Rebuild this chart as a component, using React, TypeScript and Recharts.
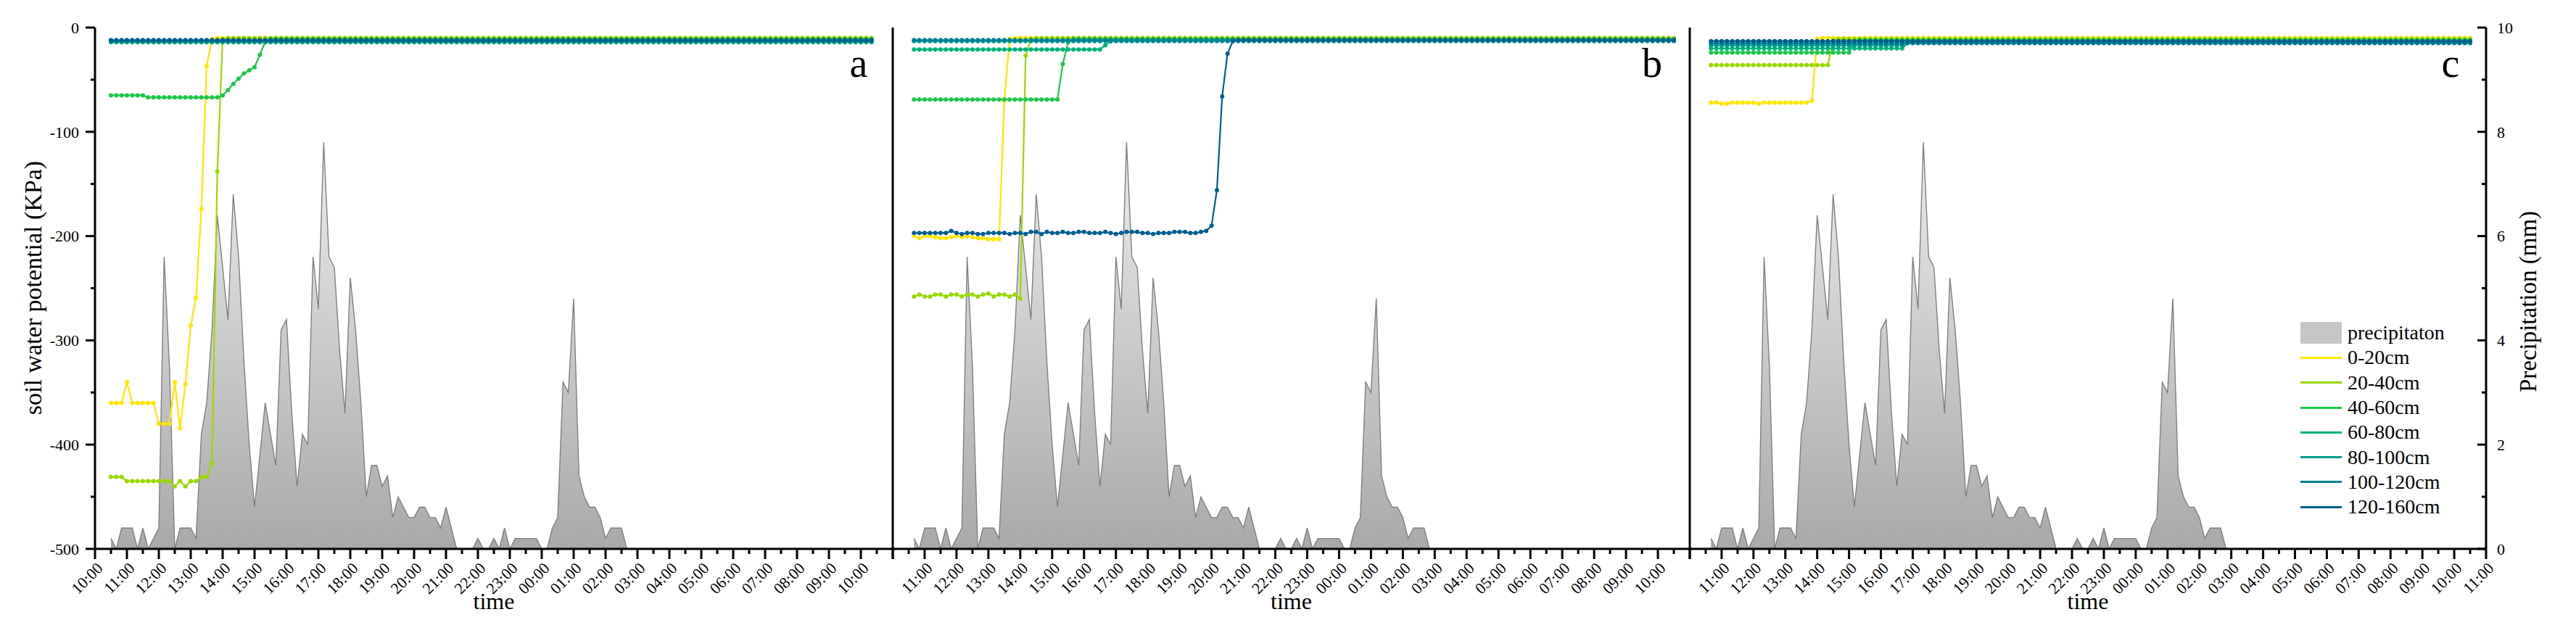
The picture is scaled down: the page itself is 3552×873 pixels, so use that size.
import React from 'react'
import { ComposedChart, Line, Area, XAxis, YAxis, Legend } from 'recharts'

const depths = ['0-20cm', '20-40cm', '40-60cm', '60-80cm', '80-100cm', '100-120cm', '120-160cm']
const depthColors = ['#FFE600', '#9BD800', '#1EC64A', '#00B27C', '#009E8E', '#007F93', '#005E8E']

// minutes after 10:00 of the first 10-min record, per site (a, b, c)
const siteStart = [30, 40, 40]

// precipitation (mm) per 10 minutes, from the first record
const precipitation = [
  0.2, 0, 0.4, 0.4, 0.4, 0, 0.4, 0, 0.2, 0.4,
  5.6, 3.5, 0, 0.4, 0.4, 0.4, 0.2, 2.2, 2.8, 4.2,
  6.4, 5.4, 4.4, 6.8, 5.6, 3.6, 2.0, 0.8, 1.8, 2.8,
  2.2, 1.6, 4.2, 4.4, 2.6, 1.2, 2.2, 2.0, 5.6, 4.6,
  7.8, 5.6, 5.4, 3.8, 2.6, 5.2, 4.2, 2.8, 1.0, 1.6,
  1.6, 1.2, 1.4, 0.6, 1.0, 0.8, 0.6, 0.6, 0.8, 0.8,
  0.6, 0.6, 0.4, 0.8, 0.4, 0, 0, 0, 0, 0.2,
  0, 0, 0.2, 0, 0.4, 0, 0.2, 0.2, 0.2, 0.2,
  0.2, 0, 0, 0.4, 0.6, 3.2, 3.0, 4.8, 1.4, 1.0,
  0.8, 0.8, 0.6, 0.2, 0.4, 0.4, 0.4, 0,
]

// ---- site a, soil water potential (kPa)
const a_0_20 = [
  -360, -360, -360, -340, -360, -360, -360, -360, -360, -380, -380, -380, -340, -384, -342, -286, -259, -174, -37, -11, -10, -10, -10, -10,
  -10, -10, -10, -10, -10, -10, -10, -10, -10, -10, -10, -10, -10, -10, -10, -10, -10, -10, -10, -10, -10, -10, -10, -10,
  -10, -10, -10, -10, -10, -10, -10, -10, -10, -10, -10, -10, -10, -10, -10, -10, -10, -10, -10, -10, -10, -10, -10, -10,
  -10, -10, -10, -10, -10, -10, -10, -10, -10, -10, -10, -10, -10, -10, -10, -10, -10, -10, -10, -10, -10, -10, -10, -10,
  -10, -10, -10, -10, -10, -10, -10, -10, -10, -10, -10, -10, -10, -10, -10, -10, -10, -10, -10, -10, -10, -10, -10, -10,
  -10, -10, -10, -10, -10, -10, -10, -10, -10, -10, -10, -10, -10, -10, -10, -10, -10, -10, -10, -10, -10, -10, -10, -10,
]
const a_20_40 = [
  -431, -431, -431, -435, -435, -435, -435, -435, -435, -435, -435, -435, -440, -435, -440, -435, -435, -431, -431, -418, -138, -11, -10, -10,
  -10, -10, -10, -10, -10, -10, -10, -10, -10, -10, -10, -10, -10, -10, -10, -10, -10, -10, -10, -10, -10, -10, -10, -10,
  -10, -10, -10, -10, -10, -10, -10, -10, -10, -10, -10, -10, -10, -10, -10, -10, -10, -10, -10, -10, -10, -10, -10, -10,
  -10, -10, -10, -10, -10, -10, -10, -10, -10, -10, -10, -10, -10, -10, -10, -10, -10, -10, -10, -10, -10, -10, -10, -10,
  -10, -10, -10, -10, -10, -10, -10, -10, -10, -10, -10, -10, -10, -10, -10, -10, -10, -10, -10, -10, -10, -10, -10, -10,
  -10, -10, -10, -10, -10, -10, -10, -10, -10, -10, -10, -10, -10, -10, -10, -10, -10, -10, -10, -10, -10, -10, -10, -10,
]
const a_40_60 = [
  -65, -65, -65, -65, -65, -65, -65, -67, -67, -67, -67, -67, -67, -67, -67, -67, -67, -67, -67, -67, -67, -65, -60, -54,
  -49, -44, -41, -38, -26, -14, -11, -11, -11, -11, -11, -11, -11, -11, -11, -11, -11, -11, -11, -11, -11, -11, -11, -11,
  -11, -11, -11, -11, -11, -11, -11, -11, -11, -11, -11, -11, -11, -11, -11, -11, -11, -11, -11, -11, -11, -11, -11, -11,
  -11, -11, -11, -11, -11, -11, -11, -11, -11, -11, -11, -11, -11, -11, -11, -11, -11, -11, -11, -11, -11, -11, -11, -11,
  -11, -11, -11, -11, -11, -11, -11, -11, -11, -11, -11, -11, -11, -11, -11, -11, -11, -11, -11, -11, -11, -11, -11, -11,
  -11, -11, -11, -11, -11, -11, -11, -11, -11, -11, -11, -11, -11, -11, -11, -11, -11, -11, -11, -11, -11, -11, -11, -11,
]
const a_60_80 = [
  -14, -14, -14, -14, -14, -14, -14, -14, -14, -14, -14, -14, -14, -14, -14, -14, -14, -14, -14, -14, -14, -14, -14, -14,
  -14, -14, -14, -14, -14, -14, -14, -14, -14, -14, -14, -14, -14, -14, -14, -14, -14, -14, -14, -14, -14, -14, -14, -14,
  -14, -14, -14, -14, -14, -14, -14, -14, -14, -14, -14, -14, -14, -14, -14, -14, -14, -14, -14, -14, -14, -14, -14, -14,
  -14, -14, -14, -14, -14, -14, -14, -14, -14, -14, -14, -14, -14, -14, -14, -14, -14, -14, -14, -14, -14, -14, -14, -14,
  -14, -14, -14, -14, -14, -14, -14, -14, -14, -14, -14, -14, -14, -14, -14, -14, -14, -14, -14, -14, -14, -14, -14, -14,
  -14, -14, -14, -14, -14, -14, -14, -14, -14, -14, -14, -14, -14, -14, -14, -14, -14, -14, -14, -14, -14, -14, -14, -14,
]
const a_80_100 = [
  -13, -13, -13, -13, -13, -13, -13, -13, -13, -13, -13, -13, -13, -13, -13, -13, -13, -13, -13, -13, -13, -13, -13, -13,
  -13, -13, -13, -13, -13, -13, -13, -13, -13, -13, -13, -13, -13, -13, -13, -13, -13, -13, -13, -13, -13, -13, -13, -13,
  -13, -13, -13, -13, -13, -13, -13, -13, -13, -13, -13, -13, -13, -13, -13, -13, -13, -13, -13, -13, -13, -13, -13, -13,
  -13, -13, -13, -13, -13, -13, -13, -13, -13, -13, -13, -13, -13, -13, -13, -13, -13, -13, -13, -13, -13, -13, -13, -13,
  -13, -13, -13, -13, -13, -13, -13, -13, -13, -13, -13, -13, -13, -13, -13, -13, -13, -13, -13, -13, -13, -13, -13, -13,
  -13, -13, -13, -13, -13, -13, -13, -13, -13, -13, -13, -13, -13, -13, -13, -13, -13, -13, -13, -13, -13, -13, -13, -13,
]
const a_100_120 = [
  -13, -13, -13, -13, -13, -13, -13, -13, -13, -13, -13, -13, -13, -13, -13, -13, -13, -13, -13, -13, -13, -13, -13, -13,
  -13, -13, -13, -13, -13, -13, -13, -13, -13, -13, -13, -13, -13, -13, -13, -13, -13, -13, -13, -13, -13, -13, -13, -13,
  -13, -13, -13, -13, -13, -13, -13, -13, -13, -13, -13, -13, -13, -13, -13, -13, -13, -13, -13, -13, -13, -13, -13, -13,
  -13, -13, -13, -13, -13, -13, -13, -13, -13, -13, -13, -13, -13, -13, -13, -13, -13, -13, -13, -13, -13, -13, -13, -13,
  -13, -13, -13, -13, -13, -13, -13, -13, -13, -13, -13, -13, -13, -13, -13, -13, -13, -13, -13, -13, -13, -13, -13, -13,
  -13, -13, -13, -13, -13, -13, -13, -13, -13, -13, -13, -13, -13, -13, -13, -13, -13, -13, -13, -13, -13, -13, -13, -13,
]
const a_120_160 = [
  -12, -12, -12, -12, -12, -12, -12, -12, -12, -12, -12, -12, -12, -12, -12, -12, -12, -12, -12, -12, -12, -12, -12, -12,
  -12, -12, -12, -12, -12, -12, -12, -12, -12, -12, -12, -12, -12, -12, -12, -12, -12, -12, -12, -12, -12, -12, -12, -12,
  -12, -12, -12, -12, -12, -12, -12, -12, -12, -12, -12, -12, -12, -12, -12, -12, -12, -12, -12, -12, -12, -12, -12, -12,
  -12, -12, -12, -12, -12, -12, -12, -12, -12, -12, -12, -12, -12, -12, -12, -12, -12, -12, -12, -12, -12, -12, -12, -12,
  -12, -12, -12, -12, -12, -12, -12, -12, -12, -12, -12, -12, -12, -12, -12, -12, -12, -12, -12, -12, -12, -12, -12, -12,
  -12, -12, -12, -12, -12, -12, -12, -12, -12, -12, -12, -12, -12, -12, -12, -12, -12, -12, -12, -12, -12, -12, -12, -12,
]

// ---- site b
const b_0_20 = [
  -200, -202, -200, -200, -201, -202, -202, -201, -200, -201, -200, -201, -202, -202, -203, -203, -203, -70, -11, -10, -10, -10, -10, -10,
  -10, -10, -10, -10, -10, -10, -10, -10, -10, -10, -10, -10, -10, -10, -10, -10, -10, -10, -10, -10, -10, -10, -10, -10,
  -10, -10, -10, -10, -10, -10, -10, -10, -10, -10, -10, -10, -10, -10, -10, -10, -10, -10, -10, -10, -10, -10, -10, -10,
  -10, -10, -10, -10, -10, -10, -10, -10, -10, -10, -10, -10, -10, -10, -10, -10, -10, -10, -10, -10, -10, -10, -10, -10,
  -10, -10, -10, -10, -10, -10, -10, -10, -10, -10, -10, -10, -10, -10, -10, -10, -10, -10, -10, -10, -10, -10, -10, -10,
  -10, -10, -10, -10, -10, -10, -10, -10, -10, -10, -10, -10, -10, -10, -10, -10, -10, -10, -10, -10, -10, -10, -10, -10,
]
const b_20_40 = [
  -258, -256, -258, -258, -256, -256, -258, -256, -256, -258, -256, -256, -258, -256, -255, -258, -256, -256, -258, -256, -260, -27, -11, -10,
  -10, -10, -10, -10, -10, -10, -10, -10, -10, -10, -10, -10, -10, -10, -10, -10, -10, -10, -10, -10, -10, -10, -10, -10,
  -10, -10, -10, -10, -10, -10, -10, -10, -10, -10, -10, -10, -10, -10, -10, -10, -10, -10, -10, -10, -10, -10, -10, -10,
  -10, -10, -10, -10, -10, -10, -10, -10, -10, -10, -10, -10, -10, -10, -10, -10, -10, -10, -10, -10, -10, -10, -10, -10,
  -10, -10, -10, -10, -10, -10, -10, -10, -10, -10, -10, -10, -10, -10, -10, -10, -10, -10, -10, -10, -10, -10, -10, -10,
  -10, -10, -10, -10, -10, -10, -10, -10, -10, -10, -10, -10, -10, -10, -10, -10, -10, -10, -10, -10, -10, -10, -10, -10,
]
const b_40_60 = [
  -69, -69, -69, -69, -69, -69, -69, -69, -69, -69, -69, -69, -69, -69, -69, -69, -69, -69, -69, -69, -69, -69, -69, -69,
  -69, -69, -69, -69, -35, -14, -11, -11, -11, -11, -11, -11, -11, -11, -11, -11, -11, -11, -11, -11, -11, -11, -11, -11,
  -11, -11, -11, -11, -11, -11, -11, -11, -11, -11, -11, -11, -11, -11, -11, -11, -11, -11, -11, -11, -11, -11, -11, -11,
  -11, -11, -11, -11, -11, -11, -11, -11, -11, -11, -11, -11, -11, -11, -11, -11, -11, -11, -11, -11, -11, -11, -11, -11,
  -11, -11, -11, -11, -11, -11, -11, -11, -11, -11, -11, -11, -11, -11, -11, -11, -11, -11, -11, -11, -11, -11, -11, -11,
  -11, -11, -11, -11, -11, -11, -11, -11, -11, -11, -11, -11, -11, -11, -11, -11, -11, -11, -11, -11, -11, -11, -11, -11,
]
const b_60_80 = [
  -21, -21, -21, -21, -21, -21, -21, -21, -21, -21, -21, -21, -21, -21, -21, -21, -21, -21, -21, -21, -21, -21, -21, -21,
  -21, -21, -21, -21, -21, -21, -21, -21, -21, -21, -21, -21, -17, -13, -12, -12, -12, -12, -12, -12, -12, -12, -12, -12,
  -12, -12, -12, -12, -12, -12, -12, -12, -12, -12, -12, -12, -12, -12, -12, -12, -12, -12, -12, -12, -12, -12, -12, -12,
  -12, -12, -12, -12, -12, -12, -12, -12, -12, -12, -12, -12, -12, -12, -12, -12, -12, -12, -12, -12, -12, -12, -12, -12,
  -12, -12, -12, -12, -12, -12, -12, -12, -12, -12, -12, -12, -12, -12, -12, -12, -12, -12, -12, -12, -12, -12, -12, -12,
  -12, -12, -12, -12, -12, -12, -12, -12, -12, -12, -12, -12, -12, -12, -12, -12, -12, -12, -12, -12, -12, -12, -12, -12,
]
const b_80_100 = [
  -13, -13, -13, -13, -13, -13, -13, -13, -13, -13, -13, -13, -13, -13, -13, -13, -13, -13, -13, -13, -13, -13, -13, -13,
  -13, -13, -13, -13, -13, -13, -13, -13, -13, -13, -13, -13, -13, -13, -13, -13, -13, -13, -13, -13, -13, -13, -13, -13,
  -13, -13, -13, -13, -13, -13, -13, -13, -13, -13, -13, -13, -13, -13, -13, -13, -13, -13, -13, -13, -13, -13, -13, -13,
  -13, -13, -13, -13, -13, -13, -13, -13, -13, -13, -13, -13, -13, -13, -13, -13, -13, -13, -13, -13, -13, -13, -13, -13,
  -13, -13, -13, -13, -13, -13, -13, -13, -13, -13, -13, -13, -13, -13, -13, -13, -13, -13, -13, -13, -13, -13, -13, -13,
  -13, -13, -13, -13, -13, -13, -13, -13, -13, -13, -13, -13, -13, -13, -13, -13, -13, -13, -13, -13, -13, -13, -13, -13,
]
const b_100_120 = [
  -12, -12, -12, -12, -12, -12, -12, -12, -12, -12, -12, -12, -12, -12, -12, -12, -12, -12, -12, -12, -12, -12, -12, -12,
  -12, -12, -12, -12, -12, -12, -12, -12, -12, -12, -12, -12, -12, -12, -12, -12, -12, -12, -12, -12, -12, -12, -12, -12,
  -12, -12, -12, -12, -12, -12, -12, -12, -12, -12, -12, -12, -12, -12, -12, -12, -12, -12, -12, -12, -12, -12, -12, -12,
  -12, -12, -12, -12, -12, -12, -12, -12, -12, -12, -12, -12, -12, -12, -12, -12, -12, -12, -12, -12, -12, -12, -12, -12,
  -12, -12, -12, -12, -12, -12, -12, -12, -12, -12, -12, -12, -12, -12, -12, -12, -12, -12, -12, -12, -12, -12, -12, -12,
  -12, -12, -12, -12, -12, -12, -12, -12, -12, -12, -12, -12, -12, -12, -12, -12, -12, -12, -12, -12, -12, -12, -12, -12,
]
const b_120_160 = [
  -197, -197, -197, -197, -197, -197, -197, -195, -197, -198, -197, -197, -198, -198, -197, -197, -197, -197, -198, -197, -197, -198, -196, -196,
  -198, -196, -197, -197, -196, -197, -197, -196, -196, -197, -197, -197, -196, -197, -198, -197, -196, -196, -196, -197, -197, -198, -197, -197,
  -197, -196, -196, -196, -197, -197, -196, -195, -190, -156, -66, -25, -13, -12, -12, -12, -12, -12, -12, -12, -12, -12, -12, -12,
  -12, -12, -12, -12, -12, -12, -12, -12, -12, -12, -12, -12, -12, -12, -12, -12, -12, -12, -12, -12, -12, -12, -12, -12,
  -12, -12, -12, -12, -12, -12, -12, -12, -12, -12, -12, -12, -12, -12, -12, -12, -12, -12, -12, -12, -12, -12, -12, -12,
  -12, -12, -12, -12, -12, -12, -12, -12, -12, -12, -12, -12, -12, -12, -12, -12, -12, -12, -12, -12, -12, -12, -12, -12,
]

// ---- site c
const c_0_20 = [
  -72, -72, -73, -73, -72, -72, -72, -72, -72, -73, -72, -72, -72, -72, -72, -72, -72, -72, -72, -70, -11, -10, -10, -10,
  -10, -10, -10, -10, -10, -10, -10, -10, -10, -10, -10, -10, -10, -10, -10, -10, -10, -10, -10, -10, -10, -10, -10, -10,
  -10, -10, -10, -10, -10, -10, -10, -10, -10, -10, -10, -10, -10, -10, -10, -10, -10, -10, -10, -10, -10, -10, -10, -10,
  -10, -10, -10, -10, -10, -10, -10, -10, -10, -10, -10, -10, -10, -10, -10, -10, -10, -10, -10, -10, -10, -10, -10, -10,
  -10, -10, -10, -10, -10, -10, -10, -10, -10, -10, -10, -10, -10, -10, -10, -10, -10, -10, -10, -10, -10, -10, -10, -10,
  -10, -10, -10, -10, -10, -10, -10, -10, -10, -10, -10, -10, -10, -10, -10, -10, -10, -10, -10, -10, -10, -10, -10, -10,
]
const c_20_40 = [
  -36, -36, -36, -36, -36, -36, -36, -36, -36, -36, -36, -36, -36, -36, -36, -36, -36, -36, -36, -36, -36, -36, -36, -12,
  -11, -11, -11, -11, -11, -11, -11, -11, -11, -11, -11, -11, -11, -11, -11, -11, -11, -11, -11, -11, -11, -11, -11, -11,
  -11, -11, -11, -11, -11, -11, -11, -11, -11, -11, -11, -11, -11, -11, -11, -11, -11, -11, -11, -11, -11, -11, -11, -11,
  -11, -11, -11, -11, -11, -11, -11, -11, -11, -11, -11, -11, -11, -11, -11, -11, -11, -11, -11, -11, -11, -11, -11, -11,
  -11, -11, -11, -11, -11, -11, -11, -11, -11, -11, -11, -11, -11, -11, -11, -11, -11, -11, -11, -11, -11, -11, -11, -11,
  -11, -11, -11, -11, -11, -11, -11, -11, -11, -11, -11, -11, -11, -11, -11, -11, -11, -11, -11, -11, -11, -11, -11, -11,
]
const c_40_60 = [
  -24, -24, -24, -24, -24, -24, -24, -24, -24, -24, -24, -24, -24, -24, -24, -24, -24, -24, -24, -24, -24, -24, -24, -24,
  -24, -24, -24, -13, -12, -12, -12, -12, -12, -12, -12, -12, -12, -12, -12, -12, -12, -12, -12, -12, -12, -12, -12, -12,
  -12, -12, -12, -12, -12, -12, -12, -12, -12, -12, -12, -12, -12, -12, -12, -12, -12, -12, -12, -12, -12, -12, -12, -12,
  -12, -12, -12, -12, -12, -12, -12, -12, -12, -12, -12, -12, -12, -12, -12, -12, -12, -12, -12, -12, -12, -12, -12, -12,
  -12, -12, -12, -12, -12, -12, -12, -12, -12, -12, -12, -12, -12, -12, -12, -12, -12, -12, -12, -12, -12, -12, -12, -12,
  -12, -12, -12, -12, -12, -12, -12, -12, -12, -12, -12, -12, -12, -12, -12, -12, -12, -12, -12, -12, -12, -12, -12, -12,
]
const c_60_80 = [
  -20, -20, -20, -20, -20, -20, -20, -20, -20, -20, -20, -20, -20, -20, -20, -20, -20, -20, -20, -20, -20, -20, -20, -20,
  -20, -20, -20, -20, -20, -20, -20, -20, -20, -20, -20, -20, -20, -15, -14, -14, -14, -14, -14, -14, -14, -14, -14, -14,
  -14, -14, -14, -14, -14, -14, -14, -14, -14, -14, -14, -14, -14, -14, -14, -14, -14, -14, -14, -14, -14, -14, -14, -14,
  -14, -14, -14, -14, -14, -14, -14, -14, -14, -14, -14, -14, -14, -14, -14, -14, -14, -14, -14, -14, -14, -14, -14, -14,
  -14, -14, -14, -14, -14, -14, -14, -14, -14, -14, -14, -14, -14, -14, -14, -14, -14, -14, -14, -14, -14, -14, -14, -14,
  -14, -14, -14, -14, -14, -14, -14, -14, -14, -14, -14, -14, -14, -14, -14, -14, -14, -14, -14, -14, -14, -14, -14, -14,
]
const c_80_100 = [
  -17, -17, -17, -17, -17, -17, -17, -17, -17, -17, -17, -17, -17, -17, -17, -17, -17, -17, -17, -17, -17, -17, -17, -17,
  -17, -17, -17, -17, -17, -17, -17, -17, -17, -17, -17, -17, -17, -14, -14, -14, -14, -14, -14, -14, -14, -14, -14, -14,
  -14, -14, -14, -14, -14, -14, -14, -14, -14, -14, -14, -14, -14, -14, -14, -14, -14, -14, -14, -14, -14, -14, -14, -14,
  -14, -14, -14, -14, -14, -14, -14, -14, -14, -14, -14, -14, -14, -14, -14, -14, -14, -14, -14, -14, -14, -14, -14, -14,
  -14, -14, -14, -14, -14, -14, -14, -14, -14, -14, -14, -14, -14, -14, -14, -14, -14, -14, -14, -14, -14, -14, -14, -14,
  -14, -14, -14, -14, -14, -14, -14, -14, -14, -14, -14, -14, -14, -14, -14, -14, -14, -14, -14, -14, -14, -14, -14, -14,
]
const c_100_120 = [
  -15, -15, -15, -15, -15, -15, -15, -15, -15, -15, -15, -15, -15, -15, -15, -15, -15, -15, -15, -15, -15, -15, -15, -15,
  -15, -15, -15, -15, -15, -15, -15, -15, -15, -15, -15, -15, -15, -15, -15, -15, -15, -15, -15, -15, -15, -15, -15, -15,
  -15, -15, -15, -15, -15, -15, -15, -15, -15, -15, -15, -15, -15, -15, -15, -15, -15, -15, -15, -15, -15, -15, -15, -15,
  -15, -15, -15, -15, -15, -15, -15, -15, -15, -15, -15, -15, -15, -15, -15, -15, -15, -15, -15, -15, -15, -15, -15, -15,
  -15, -15, -15, -15, -15, -15, -15, -15, -15, -15, -15, -15, -15, -15, -15, -15, -15, -15, -15, -15, -15, -15, -15, -15,
  -15, -15, -15, -15, -15, -15, -15, -15, -15, -15, -15, -15, -15, -15, -15, -15, -15, -15, -15, -15, -15, -15, -15, -15,
]
const c_120_160 = [
  -13, -13, -13, -13, -13, -13, -13, -13, -13, -13, -13, -13, -13, -13, -13, -13, -13, -13, -13, -13, -13, -13, -13, -13,
  -13, -13, -13, -13, -13, -13, -13, -13, -13, -13, -13, -13, -13, -13, -13, -13, -13, -13, -13, -13, -13, -13, -13, -13,
  -13, -13, -13, -13, -13, -13, -13, -13, -13, -13, -13, -13, -13, -13, -13, -13, -13, -13, -13, -13, -13, -13, -13, -13,
  -13, -13, -13, -13, -13, -13, -13, -13, -13, -13, -13, -13, -13, -13, -13, -13, -13, -13, -13, -13, -13, -13, -13, -13,
  -13, -13, -13, -13, -13, -13, -13, -13, -13, -13, -13, -13, -13, -13, -13, -13, -13, -13, -13, -13, -13, -13, -13, -13,
  -13, -13, -13, -13, -13, -13, -13, -13, -13, -13, -13, -13, -13, -13, -13, -13, -13, -13, -13, -13, -13, -13, -13, -13,
]

// axis ticks: x in minutes after 10:00 (every half hour), left in kPa, right in mm
const xTicks = [
  0, 30, 60, 90, 120, 150, 180, 210, 240, 270, 300, 330, 360, 390, 420, 450, 480, 510, 540, 570,
  600, 630, 660, 690, 720, 750, 780, 810, 840, 870, 900, 930, 960, 990, 1020, 1050, 1080, 1110, 1140, 1170,
  1200, 1230, 1260, 1290, 1320, 1350, 1380, 1410, 1440, 1470, 1500,
]
const hourLabels = [
  '10:00', '11:00', '12:00', '13:00', '14:00', '15:00', '16:00', '17:00', '18:00', '19:00', '20:00', '21:00', '22:00',
  '23:00', '00:00', '01:00', '02:00', '03:00', '04:00', '05:00', '06:00', '07:00', '08:00', '09:00', '10:00', '11:00',
]
const wTicks = [-500, -450, -400, -350, -300, -250, -200, -150, -100, -50, 0]
const pTicks = [0, 1, 2, 3, 4, 5, 6, 7, 8, 9, 10]

const FONT = '"Liberation Serif", "Times New Roman", serif'

const buildRows = (start: number, series: number[][]) =>
  series[0].map((_, j) => {
    const row: any = { t: start + 10 * j, p: j < precipitation.length ? precipitation[j] : null }
    series.forEach((s, k) => {
      row[`d${k}`] = s[j]
    })
    return row
  })

const rowsA = buildRows(siteStart[0], [a_0_20, a_20_40, a_40_60, a_60_80, a_80_100, a_100_120, a_120_160])
const rowsB = buildRows(siteStart[1], [b_0_20, b_20_40, b_40_60, b_60_80, b_80_100, b_100_120, b_120_160])
const rowsC = buildRows(siteStart[2], [c_0_20, c_20_40, c_40_60, c_60_80, c_80_100, c_100_120, c_120_160])

const XTick = (props: any) => {
  const { x, y, payload, from, to } = props
  const v = payload.value
  const major = v % 60 === 0
  const lx = x + 12
  const ly = y + 28
  return (
    <g>
      <line x1={x} y1={y} x2={x} y2={y + (major ? 14 : 7)} stroke="#000" strokeWidth={3} />
      {major && v >= from && v <= to && (
        <text x={lx} y={ly} transform={`rotate(-45 ${lx} ${ly})`} textAnchor="end" fontSize={22} fontFamily={FONT} fill="#000">
          {hourLabels[v / 60]}
        </text>
      )}
    </g>
  )
}

const WTick = (props: any) => {
  const { x, y, payload } = props
  const v = payload.value
  const major = v % 100 === 0
  return (
    <g>
      <line x1={x} y1={y} x2={x - (major ? 13 : 6)} y2={y} stroke="#000" strokeWidth={3} />
      {major && (
        <text x={x - 22} y={y} dy="0.35em" textAnchor="end" fontSize={22} fontFamily={FONT} fill="#000">
          {v}
        </text>
      )}
    </g>
  )
}

const PTick = (props: any) => {
  const { x, y, payload } = props
  const v = payload.value
  const major = v % 2 === 0
  return (
    <g>
      <line x1={x} y1={y} x2={x - (major ? 12 : 6)} y2={y} stroke="#000" strokeWidth={3} />
      {major && (
        <text x={x + 15} y={y} dy="0.35em" textAnchor="start" fontSize={22} fontFamily={FONT} fill="#000">
          {v}
        </text>
      )}
    </g>
  )
}

const LegendBox = () => (
  <div style={{ fontFamily: FONT, fontSize: 28, color: '#000' }}>
    <div style={{ display: 'flex', alignItems: 'center', height: 34.3 }}>
      <span style={{ width: 57, height: 30, background: '#c6c6c6', marginRight: 8, display: 'inline-block' }} />
      precipitaton
    </div>
    {depths.map((d, i) => (
      <div key={d} style={{ display: 'flex', alignItems: 'center', height: 34.3 }}>
        <span style={{ width: 57, height: 3, background: depthColors[i], marginRight: 8, display: 'inline-block' }} />
        {d}
      </div>
    ))}
  </div>
)

type PanelProps = {
  rows: any[]
  left: number
  width: number
  marginRight: number
  leftWidth: number
  from: number
  to: number
  gradId: string
  first?: boolean
  last?: boolean
}

function Panel({ rows, left, width, marginRight, leftWidth, from, to, gradId, first, last }: PanelProps) {
  return (
    <div style={{ position: 'absolute', left, top: 0 }}>
      <ComposedChart width={width} height={873} data={rows} margin={{ top: 38, right: marginRight, bottom: 0, left: 0 }}>
        <defs>
          <linearGradient id={gradId} x1="0" y1="0" x2="0" y2="1">
            <stop offset="0%" stopColor="#ececec" />
            <stop offset="100%" stopColor="#a9a9a9" />
          </linearGradient>
        </defs>
        <XAxis
          dataKey="t"
          type="number"
          domain={[0, 1500]}
          ticks={xTicks}
          interval={0}
          allowDataOverflow
          height={116}
          tickSize={0}
          tickMargin={0}
          tickLine={false}
          axisLine={{ stroke: '#000', strokeWidth: 3 }}
          tick={<XTick from={from} to={to} />}
          label={{ value: 'time', position: 'insideBottom', offset: 33, fontSize: 32, fontFamily: FONT, fill: '#000' }}
        />
        <YAxis
          yAxisId="w"
          domain={[-500, 0]}
          ticks={wTicks}
          interval={0}
          allowDataOverflow
          width={leftWidth}
          tickSize={0}
          tickMargin={0}
          tickLine={false}
          axisLine={{ stroke: '#000', strokeWidth: 3 }}
          tick={first ? <WTick /> : false}
        />
        {last ? (
          <YAxis
            yAxisId="p"
            orientation="right"
            domain={[0, 10]}
            ticks={pTicks}
            interval={0}
            allowDataOverflow
            width={124}
            tickSize={0}
            tickMargin={0}
            tickLine={false}
            axisLine={{ stroke: '#000', strokeWidth: 3 }}
            tick={<PTick />}
          />
        ) : (
          <YAxis yAxisId="p" orientation="right" domain={[0, 10]} allowDataOverflow hide />
        )}
        <Area
          yAxisId="p"
          type="linear"
          dataKey="p"
          stroke="#808080"
          strokeWidth={1.4}
          fill={`url(#${gradId})`}
          fillOpacity={1}
          dot={false}
          activeDot={false}
          isAnimationActive={false}
        />
        {depths.map((d, k) => (
          <Line
            key={d}
            yAxisId="w"
            type="linear"
            dataKey={`d${k}`}
            name={d}
            stroke={depthColors[k]}
            strokeWidth={2.2}
            dot={{ r: 3, fill: depthColors[k], stroke: depthColors[k], strokeWidth: 0 }}
            activeDot={false}
            isAnimationActive={false}
          />
        ))}
        {last && (
          <Legend
            layout="vertical"
            align="center"
            verticalAlign="middle"
            content={<LegendBox />}
            wrapperStyle={{ left: 852, top: 442, width: 240 }}
          />
        )}
      </ComposedChart>
    </div>
  )
}

export default function App() {
  const letter = { fontFamily: FONT, fontSize: 56, fill: '#000', textAnchor: 'middle' as const }
  return (
    <div style={{ position: 'absolute', left: 0, top: 0, width: 3552, height: 873, background: '#fff' }}>
      <Panel rows={rowsA} left={0} width={1240} marginRight={9} leftWidth={131} from={0} to={1440} gradId="gradA" first />
      <Panel rows={rowsB} left={1221} width={1119} marginRight={10} leftWidth={10} from={60} to={1440} gradId="gradB" />
      <Panel rows={rowsC} left={2320} width={1232} marginRight={0} leftWidth={10} from={60} to={1500} gradId="gradC" last />
      <svg width={3552} height={873} style={{ position: 'absolute', left: 0, top: 0, pointerEvents: 'none' }}>
        <text x={57} y={397} transform="rotate(-90 57 397)" textAnchor="middle" fontSize={34} fontFamily={FONT} fill="#000">
          soil water potential (KPa)
        </text>
        <text x={3497} y={416} transform="rotate(-90 3497 416)" textAnchor="middle" fontSize={33} fontFamily={FONT} fill="#000">
          Precipitation (mm)
        </text>
        <text x={1184} y={106} {...letter}>a</text>
        <text x={2278} y={106} {...letter}>b</text>
        <text x={3379} y={106} {...letter}>c</text>
      </svg>
    </div>
  )
}
